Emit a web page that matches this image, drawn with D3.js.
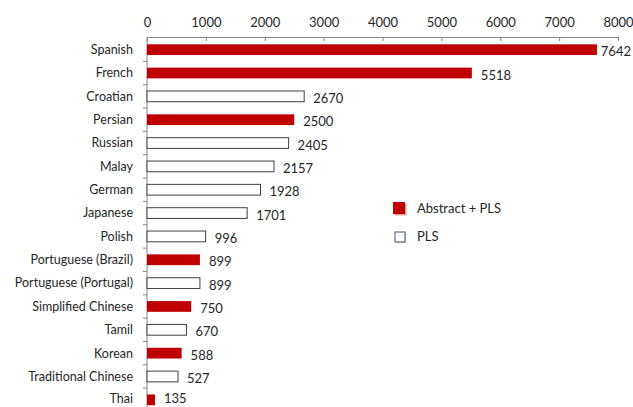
<!DOCTYPE html>
<html>
<head>
<meta charset="utf-8">
<script src="https://cdn.jsdelivr.net/npm/d3@7"></script>
<style>
  body { margin: 0; background: #fff; }
  text { font-family: Lato, "Open Sans", sans-serif; fill: #262626; }
</style>
</head>
<body>
<svg id="chart" width="633" height="407"></svg>
<script>
// languages, top to bottom
const languages = ["Spanish", "French", "Croatian", "Persian", "Russian", "Malay", "German",
  "Japanese", "Polish", "Portuguese (Brazil)", "Portuguese (Portugal)", "Simplified Chinese",
  "Tamil", "Korean", "Traditional Chinese", "Thai"];
const counts = [7642, 5518, 2670, 2500, 2405, 2157, 1928, 1701, 996, 899, 899, 750, 670, 588, 527, 135];
// true = Abstract + PLS, false = PLS only
const hasAbstract = [true, true, false, true, false, false, false, false, false, true, false, true, false, true, false, true];
const xTicks = [0, 1000, 2000, 3000, 4000, 5000, 6000, 7000, 8000];
const legendItems = ["Abstract + PLS", "PLS"];

const RED = "#c00000";
const W = 633, H = 407;
const svg = d3.select("#chart");

const x = d3.scaleLinear().domain([0, 8000]).range([147, 618]);
const y = d3.scaleBand().domain(languages).range([38, 411.5]).paddingInner(0.54).paddingOuter(0.27);
const yb = d3.scaleBand().domain(languages).range([38, 411.5]);

// top axis
const xAxis = svg.append("g")
  .attr("transform", "translate(0,37)")
  .call(d3.axisTop(x).tickValues(xTicks).tickFormat(d3.format("d"))
    .tickSize(-4).tickSizeOuter(0).tickPadding(10));
xAxis.select(".domain").attr("stroke", "#868686");
xAxis.selectAll(".tick line").attr("stroke", "#868686");
xAxis.selectAll("text").style("font-size", "13px").attr("fill", "#262626");

// left axis line with ticks at category boundaries
svg.append("line")
  .attr("x1", x(0)).attr("x2", x(0))
  .attr("y1", 37).attr("y2", H)
  .attr("stroke", "#868686");
svg.append("g").selectAll("line")
  .data(languages)
  .join("line")
  .attr("x1", x(0) - 4).attr("x2", x(0))
  .attr("y1", d => yb(d) + yb.bandwidth()).attr("y2", d => yb(d) + yb.bandwidth())
  .attr("stroke", "#868686");

// category labels
svg.append("g").selectAll("text")
  .data(languages)
  .join("text")
  .attr("x", x(0) - 14)
  .attr("y", d => Math.min(yb(d) + yb.bandwidth() / 2, H - 8))
  .attr("dy", "0.35em")
  .attr("text-anchor", "end")
  .style("font-size", "12.5px")
  .text(d => d);

// bars
const rows = languages.map((d, i) => ({ lang: d, value: counts[i], abs: hasAbstract[i] }));
svg.append("g").selectAll("rect")
  .data(rows)
  .join("rect")
  .attr("x", x(0))
  .attr("y", d => y(d.lang))
  .attr("width", d => x(d.value) - x(0))
  .attr("height", y.bandwidth())
  .attr("fill", d => d.abs ? RED : "#fff")
  .attr("stroke", d => d.abs ? "none" : "#404040")
  .attr("stroke-width", 1);

// value labels (kept inside the picture)
svg.append("g").selectAll("text")
  .data(rows)
  .join("text")
  .attr("y", d => Math.min(yb(d.lang) + yb.bandwidth() / 2 + 2, H - 9))
  .attr("dy", "0.35em")
  .style("font-size", "13px")
  .text(d => d.value)
  .each(function (d) {
    const w = this.getComputedTextLength();
    d3.select(this).attr("x", Math.min(x(d.value) + 9, W - 2 - w));
  });

// legend
const legend = svg.append("g").attr("transform", "translate(393,202)");
legendItems.forEach((name, i) => {
  const g = legend.append("g").attr("transform", `translate(0,${i * 28})`);
  if (i === 0) {
    g.append("rect").attr("x", 1.5).attr("y", 1.5).attr("width", 12).attr("height", 12).attr("fill", "#d9a0a0");
    g.append("rect").attr("width", 12).attr("height", 12).attr("fill", RED);
  } else {
    g.append("rect").attr("x", 3).attr("y", 3).attr("width", 10).attr("height", 10).attr("fill", "#c8d0dc");
    g.append("rect").attr("x", 2).attr("y", 2).attr("width", 10).attr("height", 10)
      .attr("fill", "#fff").attr("stroke", "#41597a").attr("stroke-width", 1);
  }
  g.append("text")
    .attr("x", 24).attr("y", 6)
    .attr("dy", "0.35em")
    .style("font-size", "13px")
    .text(name);
});
</script>
</body>
</html>
